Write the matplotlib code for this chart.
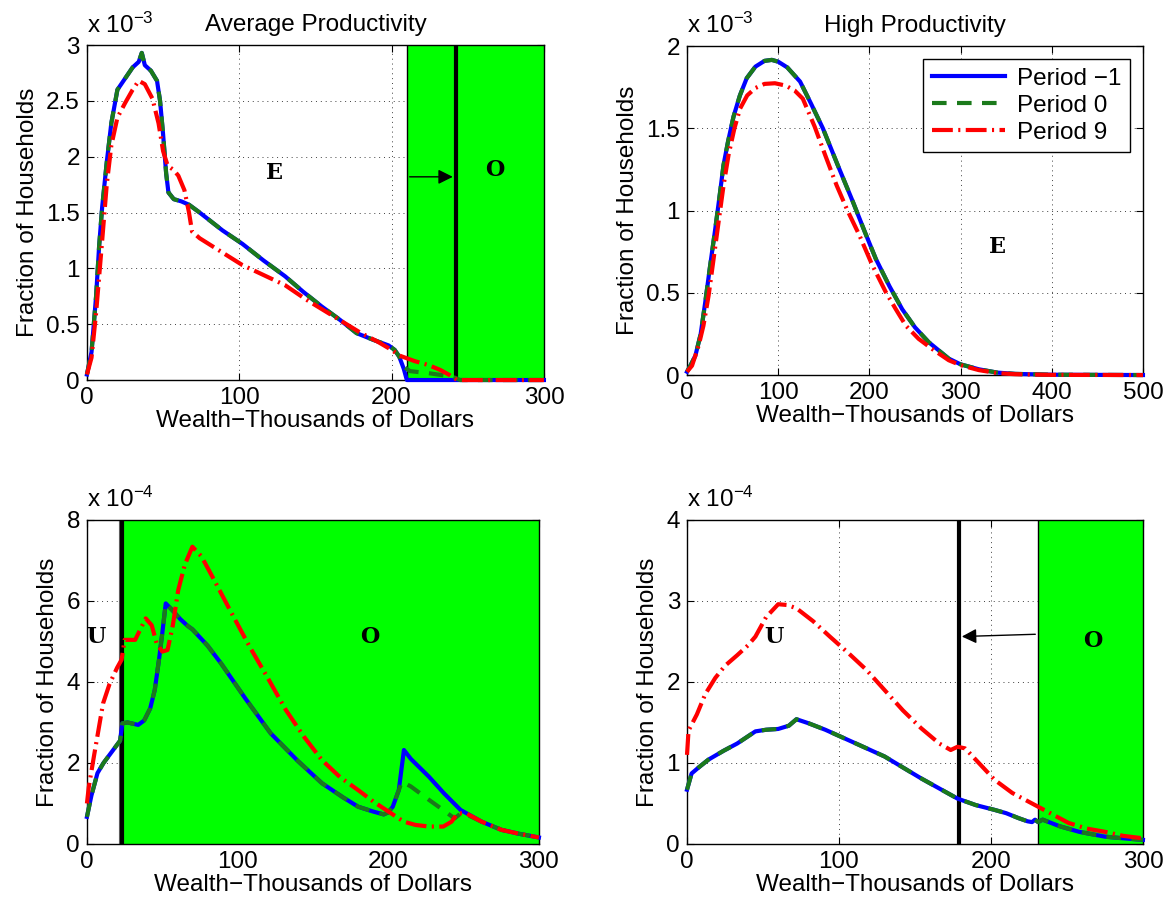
import matplotlib
matplotlib.use("Agg")
import matplotlib.pyplot as plt

plt.rcParams['font.family'] = ['Liberation Sans', 'DejaVu Sans']
plt.rcParams['mathtext.fontset'] = 'custom'
plt.rcParams['mathtext.rm'] = 'Liberation Sans'
plt.rcParams['mathtext.it'] = 'Liberation Sans'
plt.rcParams['axes.unicode_minus'] = True

# ---- data (y values in units of the axis multiplier) ----
# top-left: average productivity, x 10^-3
avg_x_pm1 = [0, 3, 6, 8, 10, 13, 16, 20, 25, 30, 34, 36, 38, 42, 46, 48, 50, 52, 53.5,
             57, 62, 67, 74, 89, 102, 116, 130, 142, 154, 166, 177, 188, 198, 202, 205,
             208, 210, 300]
avg_y_pm1 = [0.05, 0.25, 0.75, 1.2, 1.55, 1.95, 2.3, 2.6, 2.7, 2.8, 2.85, 2.93, 2.82,
             2.77, 2.68, 2.5, 2.2, 1.85, 1.68, 1.62, 1.6, 1.57, 1.5, 1.34, 1.22, 1.07,
             0.93, 0.79, 0.66, 0.54, 0.42, 0.36, 0.31, 0.27, 0.21, 0.1, 0.0, 0.0]
avg_x_p0 = [0, 3, 6, 8, 10, 13, 16, 20, 25, 30, 34, 36, 38, 42, 46, 48, 50, 52, 53.5,
            57, 62, 67, 74, 89, 102, 116, 130, 142, 154, 166, 177, 188, 198, 202, 205,
            208, 212, 225, 240, 245, 300]
avg_y_p0 = [0.05, 0.25, 0.75, 1.2, 1.55, 1.95, 2.3, 2.6, 2.7, 2.8, 2.85, 2.93, 2.82,
            2.77, 2.68, 2.5, 2.2, 1.85, 1.68, 1.62, 1.6, 1.57, 1.5, 1.34, 1.22, 1.07,
            0.93, 0.79, 0.66, 0.54, 0.42, 0.36, 0.31, 0.27, 0.21, 0.12, 0.08, 0.06,
            0.03, 0.0, 0.0]
avg_x_p9 = [0, 3, 6, 10, 13, 16, 20, 25, 30, 34, 38, 43, 47, 50, 53, 57, 60, 64, 67, 69,
            74, 88, 102, 116, 130, 144, 156, 168, 180, 190, 200, 205, 215, 224, 232, 238,
            243, 300]
avg_y_p9 = [0.05, 0.2, 0.6, 1.25, 1.75, 2.1, 2.35, 2.48, 2.6, 2.68, 2.65, 2.52, 2.3,
            2.05, 1.92, 1.88, 1.83, 1.7, 1.5, 1.33, 1.27, 1.15, 1.03, 0.94, 0.85, 0.72,
            0.62, 0.52, 0.42, 0.35, 0.27, 0.22, 0.17, 0.135, 0.09, 0.045, 0.0, 0.0]

# top-right: high productivity, x 10^-3
hi_x_pm1 = [0, 3.7, 9.2, 15, 20, 25, 31, 36, 40, 45, 51, 58, 65.5, 75, 85, 93, 100, 110,
            124, 136, 149, 165, 182, 195, 207, 222, 236, 250, 265, 287, 300, 320, 340,
            360, 400, 500]
hi_y_pm1 = [0.02, 0.057, 0.118, 0.25, 0.443, 0.65, 0.89, 1.1, 1.276, 1.42, 1.571, 1.7,
            1.805, 1.875, 1.91, 1.916, 1.905, 1.87, 1.784, 1.65, 1.5, 1.28, 1.052, 0.87,
            0.707, 0.54, 0.4, 0.29, 0.2, 0.1, 0.065, 0.035, 0.015, 0.007, 0.002, 0.0]
hi_x_p9 = [0, 5.5, 12.8, 18, 23.7, 29, 34.6, 40, 45.5, 52, 58.2, 66, 75, 85, 96.4, 108,
           118, 127, 140, 152, 164, 176, 189, 203, 218, 229, 240, 254, 269, 287, 300,
           320, 340, 360, 400, 500]
hi_y_p9 = [0.02, 0.057, 0.18, 0.3, 0.484, 0.7, 0.93, 1.15, 1.337, 1.5, 1.62, 1.7, 1.745,
           1.77, 1.774, 1.76, 1.73, 1.68, 1.51, 1.33, 1.154, 1.0, 0.85, 0.67, 0.504, 0.4,
           0.3, 0.22, 0.158, 0.09, 0.06, 0.03, 0.012, 0.005, 0.001, 0.0]

# bottom-left: average productivity, x 10^-4
lo_x_pm1 = [0, 3, 7, 11, 15, 20, 22, 23.5, 27, 34, 38, 42, 45, 48, 50, 52.3, 56, 62, 67,
            70, 80, 89, 105, 122, 140, 156, 170, 180, 190, 197, 200, 203, 207, 210.4,
            215, 227, 237, 248, 262, 275, 287, 300]
lo_y_pm1 = [0.67, 1.2, 1.75, 2.0, 2.2, 2.45, 2.55, 2.98, 3.0, 2.94, 3.05, 3.35, 3.8, 4.6,
            5.2, 5.94, 5.8, 5.55, 5.38, 5.3, 4.9, 4.46, 3.6, 2.73, 2.05, 1.5, 1.15, 0.92,
            0.8, 0.73, 0.78, 0.92, 1.33, 2.32, 2.1, 1.66, 1.25, 0.84, 0.55, 0.35, 0.25,
            0.16]
lo_x_p0 = [0, 3, 7, 11, 15, 20, 22, 23.5, 27, 34, 38, 42, 45, 48, 50, 52.3, 56, 62, 67,
           70, 80, 89, 105, 122, 140, 156, 170, 180, 190, 197, 200, 203, 207, 209, 215,
           227, 236, 244, 249, 262, 275, 287, 300]
lo_y_p0 = [0.67, 1.2, 1.75, 2.0, 2.2, 2.45, 2.55, 2.98, 3.0, 2.94, 3.05, 3.35, 3.8, 4.6,
           5.2, 5.94, 5.8, 5.55, 5.38, 5.3, 4.9, 4.46, 3.6, 2.73, 2.05, 1.5, 1.15, 0.92,
           0.8, 0.73, 0.78, 0.92, 1.33, 1.54, 1.42, 1.09, 0.85, 0.63, 0.78, 0.55, 0.35,
           0.25, 0.16]
lo_x_p9 = [0, 1.2, 4.8, 10.7, 15, 20, 23, 25, 32, 39, 43, 46.3, 50, 53.5, 57, 60.6, 65,
           70, 76, 84.4, 96, 108, 120, 132, 144, 156, 168, 180, 190, 198.5, 205, 210.4,
           218, 227, 236.5, 242, 246, 252, 262, 275, 287, 300]
lo_y_p9 = [1.0, 1.4, 2.2, 3.47, 3.95, 4.35, 4.55, 5.04, 5.04, 5.57, 5.4, 4.95, 4.75,
           4.79, 5.4, 6.27, 6.9, 7.34, 7.1, 6.52, 5.7, 4.87, 4.1, 3.31, 2.65, 2.07, 1.65,
           1.33, 1.05, 0.84, 0.68, 0.55, 0.47, 0.43, 0.43, 0.55, 0.76, 0.75, 0.55, 0.35,
           0.25, 0.16]

# bottom-right: high productivity, x 10^-4
lh_x_pm1 = [0, 3, 8, 14, 24, 33, 45, 52, 60, 67, 72, 80, 91, 110, 130, 154, 178, 190,
            202.5, 210, 218, 224, 227, 229, 231, 234, 245, 258, 275, 287, 300]
lh_y_pm1 = [0.67, 0.87, 0.95, 1.04, 1.15, 1.24, 1.39, 1.41, 1.42, 1.46, 1.54, 1.49, 1.41,
            1.25, 1.08, 0.81, 0.56, 0.48, 0.42, 0.38, 0.32, 0.28, 0.27, 0.3, 0.27, 0.3,
            0.22, 0.15, 0.09, 0.07, 0.05]
lh_x_p9 = [0, 1, 6.5, 12, 18.6, 25, 33, 40, 45, 52, 60, 66, 72, 83, 94, 106, 118, 130,
           142, 154, 166, 173.5, 178, 183, 192, 202.5, 214, 227, 240, 251, 263, 275, 287,
           300]
lh_y_p9 = [1.1, 1.4, 1.6, 1.85, 2.05, 2.2, 2.33, 2.45, 2.56, 2.8, 2.96, 2.95, 2.91, 2.75,
           2.56, 2.36, 2.15, 1.9, 1.65, 1.43, 1.24, 1.16, 1.2, 1.18, 1.0, 0.79, 0.63,
           0.5, 0.37, 0.26, 0.19, 0.15, 0.1, 0.07]

labels = ['Period \u22121', 'Period 0', 'Period 9']

BLUE = '#0000ff'
GREEN = '#1b7a1b'
RED = '#ff0000'
FILL = '#00ff00'
FS = 17.5


def style_axes(ax, xlim, ylim, xticks, yticks, exp, exp_y):
    ax.set_xlim(*xlim)
    ax.set_ylim(*ylim)
    ax.set_xticks(xticks)
    ax.set_yticks(yticks)
    ax.set_xticklabels([('%g' % t) for t in xticks])
    ax.set_yticklabels([('%g' % t) for t in yticks])
    ax.set_axisbelow(True)
    ax.grid(True, color='0.25', linestyle=(0, (1, 4)), linewidth=0.7)
    ax.tick_params(direction='in', top=True, right=True, labelsize=FS, length=5,
                   pad=5)
    for sp in ax.spines.values():
        sp.set_linewidth(1.0)
    ax.set_xlabel('Wealth\u2212Thousands of Dollars', fontsize=FS, labelpad=1)
    ax.set_ylabel('Fraction of Households', fontsize=FS, labelpad=5)
    ax.text(0, exp_y, 'x 10$^{-%d}$' % exp, transform=ax.transAxes,
            ha='left', va='baseline', fontsize=FS)


def draw_lines(ax, x1, y1, x0, y0, x9, y9):
    kw = dict(linewidth=3, clip_on=False, zorder=5)
    ax.plot(x1, y1, '-', color=BLUE, label=labels[0], **kw)
    ax.plot(x0, y0, color=GREEN, linestyle=(0, (3.5, 2.5)), label=labels[1], **kw)
    ax.plot(x9, y9, color=RED, linestyle=(0, (5, 1.3, 0.5, 1.3)), label=labels[2], **kw)


def region_label(ax, x, y, s):
    ax.text(x, y, s, fontsize=16, fontweight='bold', family='DejaVu Serif',
            ha='center', va='center', zorder=6)


fig = plt.figure(figsize=(11.67, 9.07), dpi=100)

# top-left
ax1 = fig.add_axes([0.0745, 0.581, 0.3916, 0.3693])
ax1.axvspan(210, 300, color=FILL, zorder=1, linewidth=0)
ax1.axvline(210, color='k', linewidth=1, zorder=2)
ax1.axvline(242, color='k', linewidth=3, zorder=3)
draw_lines(ax1, avg_x_pm1, avg_y_pm1, avg_x_p0, avg_y_p0, avg_x_p9, avg_y_p9)
ax1.annotate('', xy=(242, 1.82), xytext=(210, 1.82),
             arrowprops=dict(arrowstyle='-|>', color='k', lw=1, mutation_scale=22),
             zorder=4)
region_label(ax1, 123, 1.85, 'E')
region_label(ax1, 268, 1.88, 'O')
style_axes(ax1, (0, 300), (0, 3), [0, 100, 200, 300],
           [0, 0.5, 1, 1.5, 2, 2.5, 3], 3, 1.035)
ax1.set_title('Average Productivity', fontsize=FS, pad=10)

# top-right
ax2 = fig.add_axes([0.5887, 0.5865, 0.3907, 0.3627])
draw_lines(ax2, hi_x_pm1, hi_y_pm1, hi_x_pm1, hi_y_pm1, hi_x_p9, hi_y_p9)
region_label(ax2, 340, 0.78, 'E')
style_axes(ax2, (0, 500), (0, 2), [0, 100, 200, 300, 400, 500],
           [0, 0.5, 1, 1.5, 2], 3, 1.04)
ax2.set_title('High Productivity', fontsize=FS, pad=10)
leg = ax2.legend(loc='upper right', fontsize=FS, frameon=True, fancybox=False,
                 edgecolor='k', framealpha=1, handlelength=3.0, borderaxespad=0.55,
                 labelspacing=0.2, handletextpad=0.5, borderpad=0.35)
leg.get_frame().set_linewidth(1.0)

# bottom-left
ax3 = fig.add_axes([0.0745, 0.0695, 0.3873, 0.3572])
ax3.axvspan(23.5, 300, color=FILL, zorder=1, linewidth=0)
ax3.axvline(21, color='0.4', linewidth=0.8, zorder=2)
ax3.axvline(23.5, color='k', linewidth=3, zorder=3)
draw_lines(ax3, lo_x_pm1, lo_y_pm1, lo_x_p0, lo_y_p0, lo_x_p9, lo_y_p9)
region_label(ax3, 6, 5.12, 'U')
region_label(ax3, 188, 5.12, 'O')
style_axes(ax3, (0, 300), (0, 8), [0, 100, 200, 300], [0, 2, 4, 6, 8], 4, 1.04)

# bottom-right
ax4 = fig.add_axes([0.5887, 0.0695, 0.3907, 0.3572])
ax4.axvspan(231, 300, color=FILL, zorder=1, linewidth=0)
ax4.axvline(231, color='k', linewidth=1, zorder=2)
ax4.axvline(179, color='k', linewidth=3, zorder=3)
draw_lines(ax4, lh_x_pm1, lh_y_pm1, lh_x_pm1, lh_y_pm1, lh_x_p9, lh_y_p9)
ax4.annotate('', xy=(179, 2.56), xytext=(231, 2.59),
             arrowprops=dict(arrowstyle='-|>', color='k', lw=1, mutation_scale=22),
             zorder=4)
region_label(ax4, 57, 2.56, 'U')
region_label(ax4, 267, 2.5, 'O')
style_axes(ax4, (0, 300), (0, 4), [0, 100, 200, 300], [0, 1, 2, 3, 4], 4, 1.04)

fig.savefig('out.png', dpi=100)
